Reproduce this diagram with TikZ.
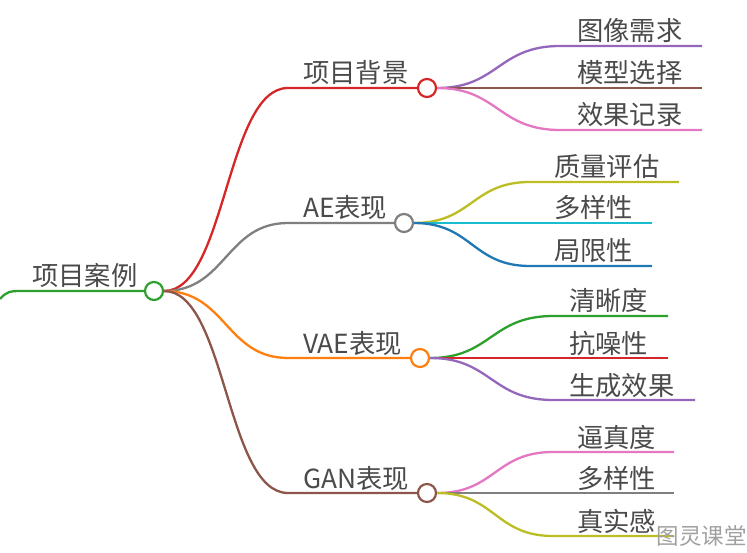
\documentclass[tikz,border=0pt]{standalone}
\usepackage{fontspec}
\setmainfont{Noto Sans CJK SC}
\definecolor{cgreen}{HTML}{2CA02C}
\definecolor{cred}{HTML}{D62728}
\definecolor{cgray}{HTML}{7F7F7F}
\definecolor{corange}{HTML}{FF7F0E}
\definecolor{cbrown}{HTML}{8C564B}
\definecolor{cpurple}{HTML}{9467BD}
\definecolor{cpink}{HTML}{E377C2}
\definecolor{colive}{HTML}{BCBD22}
\definecolor{ccyan}{HTML}{17BECF}
\definecolor{cblue}{HTML}{1F77B4}
\definecolor{txt}{HTML}{4A4A4A}
\definecolor{wm}{HTML}{A0A0A0}
\begin{document}
\begin{tikzpicture}[x=1pt,y=-1pt,
  hub/.style={circle,draw,fill=white,line width=2.2pt,minimum size=18pt,inner sep=0pt},
  lbl/.style={anchor=base west,inner sep=0pt,text=txt,font=\fontsize{26.3}{31}\selectfont},
  br/.style={line width=2.3pt}]
\useasboundingbox (0,0) rectangle (747,553);
% hubs
\node[hub,draw=cgreen] (root) at (154,291) {};
\node[hub,draw=cred] (h1) at (427,88) {};
\node[hub,draw=cgray] (h2) at (404,223) {};
\node[hub,draw=corange] (h3) at (420,358) {};
\node[hub,draw=cbrown] (h4) at (427,493) {};
% labels
\node[lbl] (troot) at (32,286) {项目案例};
\node[lbl] (t1) at (303,83) {项目背景};
\node[lbl] (t2) at (303,218) {AE表现};
\node[lbl] (t3) at (303,353) {VAE表现};
\node[lbl] (t4) at (303,488) {GAN表现};
\node[lbl] (a1) at (577,41) {图像需求};
\node[lbl] (a2) at (577,83) {模型选择};
\node[lbl] (a3) at (577,125) {效果记录};
\node[lbl] (b1) at (554,177) {质量评估};
\node[lbl] (b2) at (554,218) {多样性};
\node[lbl] (b3) at (554,261) {局限性};
\node[lbl] (c1) at (569,311) {清晰度};
\node[lbl] (c2) at (569,353) {抗噪性};
\node[lbl] (c3) at (569,395) {生成效果};
\node[lbl] (d1) at (577,447) {逼真度};
\node[lbl] (d2) at (577,488) {多样性};
\node[lbl] (d3) at (577,531) {真实感};
% coordinates
\coordinate (r0) at (0,299);
\coordinate (e1) at (288,88);
\coordinate (e2) at (288,223);
\coordinate (e3) at (288,358);
\coordinate (e4) at (288,493);
\coordinate (a1s) at (560,46);  \coordinate (a1e) at (702,46);
\coordinate (a2e) at (702,88);
\coordinate (a3s) at (560,130); \coordinate (a3e) at (702,130);
\coordinate (b1s) at (530,182); \coordinate (b1e) at (679,182);
\coordinate (b2e) at (652,223);
\coordinate (b3s) at (530,266); \coordinate (b3e) at (652,266);
\coordinate (c1s) at (553,316); \coordinate (c1e) at (668,316);
\coordinate (c2e) at (668,358);
\coordinate (c3s) at (553,400); \coordinate (c3e) at (695,400);
\coordinate (d1s) at (553,452); \coordinate (d1e) at (674,452);
\coordinate (d2e) at (674,493);
\coordinate (d3s) at (553,536); \coordinate (d3e) at (674,536);
% root line
\draw[br,cgreen] (r0) .. controls (6,292) and (10,291) .. (20,291) -- (root.west);
% level 1
\draw[br,cred] (root.east) .. controls (226,291) and (226,88) .. (e1) -- (h1.west);
\draw[br,cgray] (root.east) .. controls (226,291) and (226,223) .. (e2) -- (h2.west);
\draw[br,corange] (root.east) .. controls (226,291) and (226,358) .. (e3) -- (h3.west);
\draw[br,cbrown] (root.east) .. controls (226,291) and (226,493) .. (e4) -- (h4.west);
% group 1
\draw[br,cpurple] (h1.east) .. controls (498,88) and (498,46) .. (a1s) -- (a1e);
\draw[br,cbrown] (h1.east) -- (a2e);
\draw[br,cpink] (h1.east) .. controls (498,88) and (498,130) .. (a3s) -- (a3e);
% group 2
\draw[br,colive] (h2.east) .. controls (472,223) and (472,182) .. (b1s) -- (b1e);
\draw[br,ccyan] (h2.east) -- (b2e);
\draw[br,cblue] (h2.east) .. controls (472,223) and (472,266) .. (b3s) -- (b3e);
% group 3
\draw[br,cgreen] (h3.east) .. controls (491,358) and (491,316) .. (c1s) -- (c1e);
\draw[br,cred] (h3.east) -- (c2e);
\draw[br,cpurple] (h3.east) .. controls (491,358) and (491,400) .. (c3s) -- (c3e);
% group 4
\draw[br,cpink] (h4.east) .. controls (495,493) and (495,452) .. (d1s) -- (d1e);
\draw[br,cgray] (h4.east) -- (d2e);
\draw[br,colive] (h4.east) .. controls (495,493) and (495,536) .. (d3s) -- (d3e);
% watermark
\node[anchor=base east,inner sep=0pt,text=wm,font=\fontsize{22.5}{26}\selectfont] (wmk) at (747,544) {图灵课堂};
\end{tikzpicture}
\end{document}
